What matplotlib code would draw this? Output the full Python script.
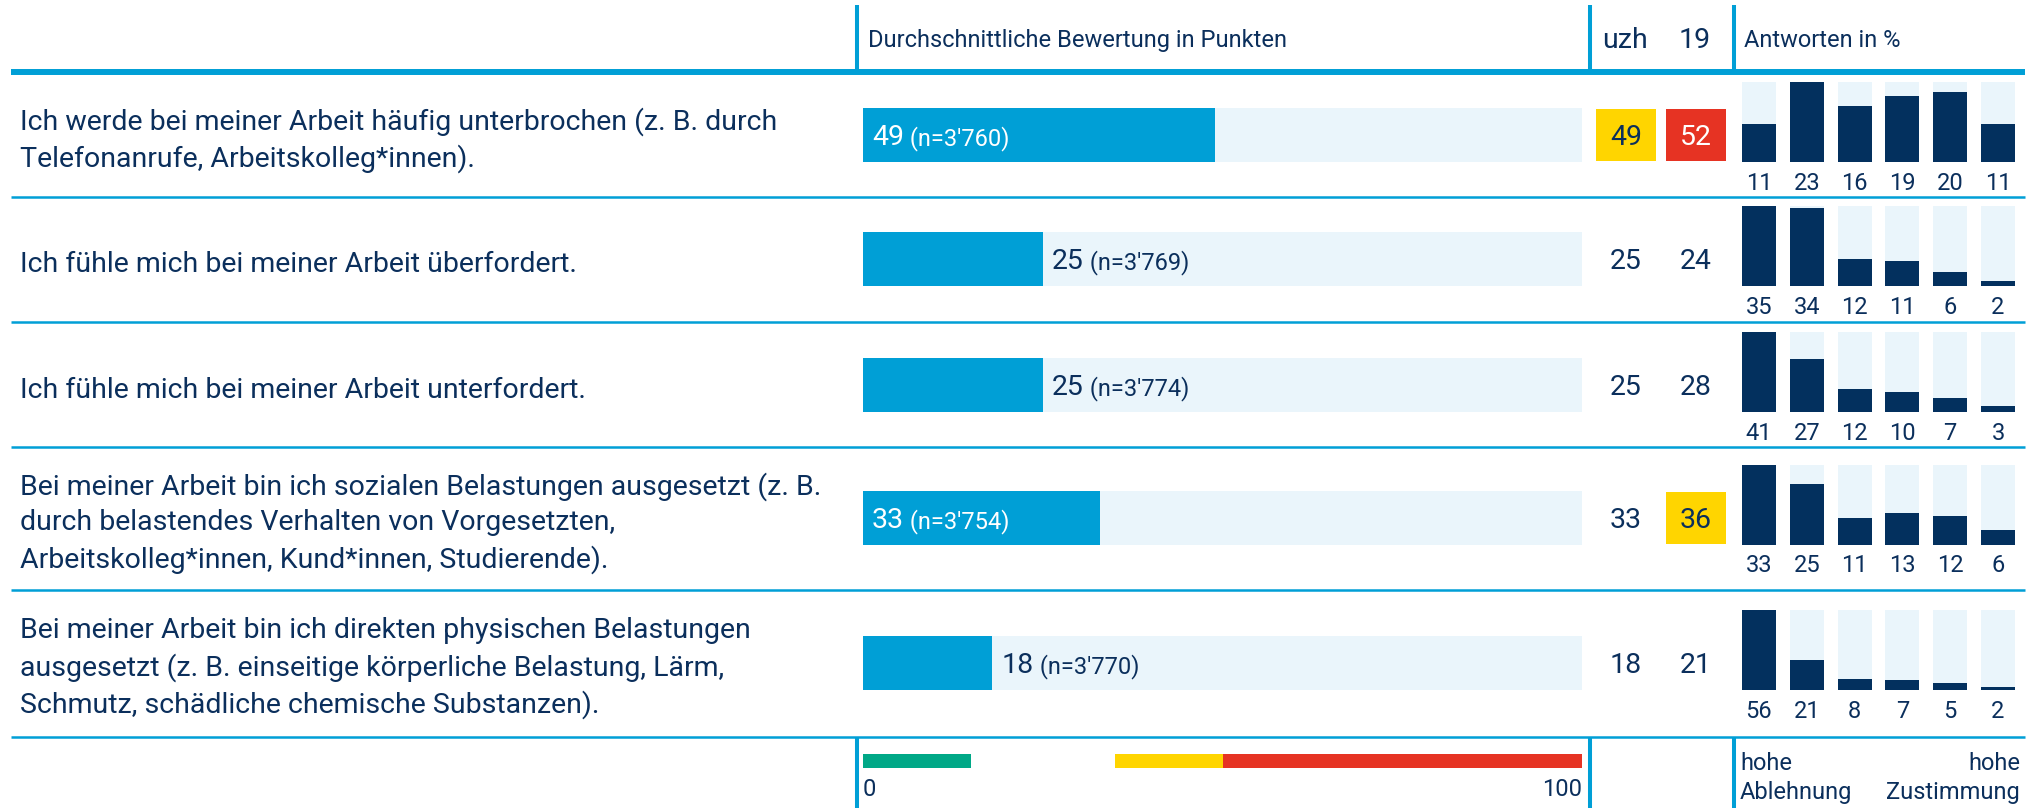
import matplotlib
matplotlib.use('Agg')
import matplotlib.pyplot as plt
from matplotlib import font_manager

# --- data -------------------------------------------------------------
questions = [
    'Ich werde bei meiner Arbeit häufig unterbrochen (z. B. durch\nTelefonanrufe, Arbeitskolleg*innen).',
    'Ich fühle mich bei meiner Arbeit überfordert.',
    'Ich fühle mich bei meiner Arbeit unterfordert.',
    'Bei meiner Arbeit bin ich sozialen Belastungen ausgesetzt (z. B.\ndurch belastendes Verhalten von Vorgesetzten,\nArbeitskolleg*innen, Kund*innen, Studierende).',
    'Bei meiner Arbeit bin ich direkten physischen Belastungen\nausgesetzt (z. B. einseitige körperliche Belastung, Lärm,\nSchmutz, schädliche chemische Substanzen).',
]
mean_scores = [49, 25, 25, 33, 18]
n_counts = ["3'760", "3'769", "3'774", "3'754", "3'770"]
uzh_scores = [49, 25, 25, 33, 18]
scores_2019 = [52, 24, 28, 36, 21]
answers_pct = [
    [11, 23, 16, 19, 20, 11],
    [35, 34, 12, 11, 6, 2],
    [41, 27, 12, 10, 7, 3],
    [33, 25, 11, 13, 12, 6],
    [56, 21, 8, 7, 5, 2],
]
# colour bands of the score scale (start, end, colour)
bands = [(0, 15, '#00a887'), (35, 50, '#ffd500'), (50, 100, '#e63323')]

# --- style ------------------------------------------------------------
NAVY = '#0b2f5c'
BAR_NAVY = '#03305e'
BLUE = '#009fd6'
LIGHT = '#eaf5fb'
W, H = 2044, 808


def pick_font():
    for name in ['Liberation Sans Narrow', 'Roboto', 'DejaVu Sans']:
        try:
            font_manager.findfont(name, fallback_to_default=False)
            return name
        except Exception:
            pass
    return 'DejaVu Sans'


plt.rcParams['font.family'] = [pick_font(), 'DejaVu Sans']
BIG = 20.5
SMALL = 17

row_y = [135, 259, 385, 518, 663]
row_lines = [197, 322, 447, 590, 737]

fig = plt.figure(figsize=(W / 100, H / 100), dpi=100)

# background axes in pixel units: rules and text
bg = fig.add_axes([0, 0, 1, 1])
bg.set_xlim(0, W)
bg.set_ylim(H, 0)
bg.axis('off')

bg.plot([11, 2025], [72, 72], color=BLUE, lw=4.3, solid_capstyle='butt')
for y in row_lines:
    bg.plot([11, 2025], [y, y], color=BLUE, lw=1.8, solid_capstyle='butt')
for x in [857, 1590, 1734]:
    bg.plot([x, x], [5, 70], color=BLUE, lw=2.9, solid_capstyle='butt')
    bg.plot([x, x], [737, H], color=BLUE, lw=2.9, solid_capstyle='butt')

bg.text(868, 47, 'Durchschnittliche Bewertung in Punkten', color=NAVY,
        fontsize=SMALL, va='baseline')
bg.text(1625, 48, 'uzh', color=NAVY, fontsize=BIG, va='baseline', ha='center')
bg.text(1695, 48, '19', color=NAVY, fontsize=BIG, va='baseline', ha='center')
bg.text(1744, 47, 'Antworten in %', color=NAVY, fontsize=SMALL, va='baseline')

for q, y in zip(questions, row_y):
    bg.text(20, y + 5, q, color=NAVY, fontsize=BIG, va='center', linespacing=1.38)


def band_color(v):
    for lo, hi, c in bands:
        if lo <= v <= hi and not (lo == 35 and v == 50):
            return c
    return None


# uzh / 2019 comparison cells
for col_x, vals in [(1626, uzh_scores), (1696, scores_2019)]:
    for v, y in zip(vals, row_y):
        c = band_color(v)
        tc = NAVY
        if c is not None:
            bg.bar(col_x, 52, bottom=y - 26, width=60, color=c)
            if c == '#e63323':
                tc = 'white'
        bg.text(col_x, y + 10, str(v), color=tc, fontsize=BIG, ha='center', va='baseline')

bg.text(1740, 778, 'hohe\nAblehnung', color=NAVY, fontsize=SMALL, va='center',
        ha='left', linespacing=1.35)
bg.text(2020, 778, 'hohe\nZustimmung', color=NAVY, fontsize=SMALL, va='center',
        ha='right', linespacing=1.35, multialignment='right')

# main score bars, 0..100
ax = fig.add_axes([863 / W, 0, 719 / W, 1])
ax.set_xlim(0, 100)
ax.set_ylim(H, 0)
ax.axis('off')
ax.barh(row_y, [100] * len(row_y), height=54, color=LIGHT)
ax.barh(row_y, mean_scores, height=54, color=BLUE)
fig.canvas.draw()
for v, n, y in zip(mean_scores, n_counts, row_y):
    inside = v >= 30
    x0 = 0 if inside else v
    c = 'white' if inside else NAVY
    t1 = ax.annotate(str(v), xy=(x0, y + 10), xytext=(9, 0), textcoords='offset pixels',
                     color=c, fontsize=BIG, va='baseline')
    ax.annotate(" (n={})".format(n), xy=(1, y + 10), xycoords=(t1, 'data'),
                color=c, fontsize=SMALL, va='baseline')

for lo, hi, c in bands:
    ax.barh(761, hi - lo, left=lo, height=14, color=c)
ax.text(0, 790, '0', color=NAVY, fontsize=SMALL, va='center', ha='left')
ax.text(100, 790, '100', color=NAVY, fontsize=SMALL, va='center', ha='right')

# answer distributions
for vals, y in zip(answers_pct, row_y):
    sa = fig.add_axes([1742 / W, (H - (y + 27)) / H, 273 / W, 80 / H])
    sa.set_xlim(-0.355, 5.355)
    sa.set_ylim(0, max(vals))
    sa.axis('off')
    xs = range(len(vals))
    sa.bar(xs, [max(vals)] * len(vals), width=0.71, color=LIGHT)
    sa.bar(xs, vals, width=0.71, color=BAR_NAVY)
    for i, v in zip(xs, vals):
        sa.annotate(str(v), xy=(i, 0), xytext=(0, -21), textcoords='offset pixels',
                    ha='center', va='center', color=NAVY, fontsize=SMALL,
                    annotation_clip=False)

fig.savefig('out.png', dpi=100)
